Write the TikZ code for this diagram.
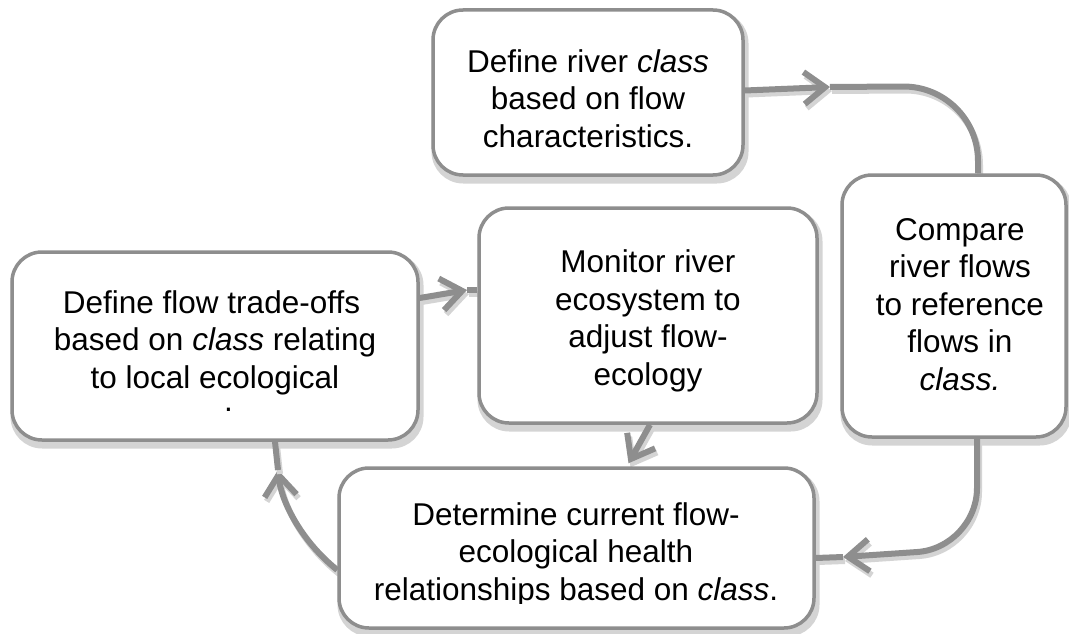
\documentclass[tikz,border=0pt]{standalone}
\usepackage{fontspec}
\setmainfont{Liberation Sans}
\usetikzlibrary{arrows.meta}

\definecolor{edge}{HTML}{8E8E8E}
\definecolor{shade}{HTML}{D4D4D4}

\pgfdeclarelayer{boxshadow}
\pgfdeclarelayer{links}
\pgfsetlayers{boxshadow,links,main}

\tikzset{
  stepbox/.style={draw=edge, line width=3.5pt, fill=white, rounded corners=30pt, inner sep=0pt},
  boxshade/.style={draw=shade, fill=shade, line width=3.5pt, rounded corners=30pt},
  steptext/.style={align=center, inner sep=0pt, anchor=base, font=\fontsize{31.5}{37.5}\selectfont},
  flow/.style={draw=edge, line width=6pt},
  flowshade/.style={draw=shade, line width=6pt, transform canvas={shift={(2pt,-4pt)}}},
  tip/.style={-{Straight Barb[length=21pt,width=32pt]}},
}

% connector drawn over its own light shadow
\newcommand\connector[2][]{%
  \draw[flowshade,#1] #2;
  \draw[flow,#1] #2;
}

\begin{document}
\begin{tikzpicture}[x=1pt, y=-1pt]
\useasboundingbox (0,0) rectangle (1069,634);

% the five steps
\node[stepbox, minimum width=310, minimum height=165] (b1) at (588,92.5) {};
\node[stepbox, minimum width=224, minimum height=262] (b2) at (954,306) {};
\node[stepbox, minimum width=338, minimum height=215] (b3) at (648,315.5) {};
\node[stepbox, minimum width=406, minimum height=188] (b4) at (215,346) {};
\node[stepbox, minimum width=475, minimum height=160] (b5) at (576.5,548) {};

% white page and the shadows of the steps
\begin{pgfonlayer}{boxshadow}
  \fill[white] (0,0) rectangle (1069,634);
  \foreach \b in {b1,b2,b3,b4,b5}
    \path[boxshade] ([shift={(2pt,-5pt)}]\b.north west) rectangle ([shift={(2pt,-5pt)}]\b.south east);
\end{pgfonlayer}

% bend points and arrow-tip positions
\coordinate (c1) at (978,86);
\coordinate (t1) at (830,87);
\coordinate (c2) at (977,548);
\coordinate (t2) at (843,557);
\coordinate (t4) at (467,290);
\coordinate (t5) at (278,470);

% connectors
\begin{pgfonlayer}{links}
  \connector[tip]{([yshift=2pt]b1.east) -- (t1)}
  \connector[rounded corners=75pt]{(t1) -- (c1) -- ([xshift=24pt]b2.north)}
  \connector[tip, rounded corners=60pt]{([xshift=23pt]b2.south) -- (c2) -- (t2)}
  \connector{(t2) -- ([yshift=-10pt]b5.east)}
  \connector[tip]{([xshift=2pt]b3.south) -- ([xshift=52pt,yshift=3pt]b5.north)}
  \connector[tip]{([yshift=48pt]b4.east) -- (t4)}
  \connector{(t4) -- ([yshift=25.5pt]b3.west)}
  \connector[tip]{([yshift=-22pt]b5.west) .. controls (300,540) and (281,500) .. (t5)}
  \connector{(t5) -- ([xshift=60pt]b4.south)}
\end{pgfonlayer}

% texts (placed by the baseline of their last line), cut off near the lower edge of each box
\begin{scope}
  \clip (b1.north west) rectangle ([yshift=27pt]b1.south east);
  \node[steptext] (l1) at (588,147) {Define river \textit{class}\\based on flow\\characteristics.};
\end{scope}
\node[steptext] (l2) at (960,390) {Compare\\river flows\\to reference\\flows in\\\textit{class.}};
\begin{scope}
  \clip (b3.north west) rectangle ([yshift=33pt]b3.south east);
  \node[steptext] (l3) at (648,385) {Monitor river\\ecosystem to\\adjust flow-\\ecology};
\end{scope}
\node[steptext] (l4) at (215,388) {Define flow trade-offs\hspace*{7pt}\\based on \textit{class} relating\\to local ecological};
\node[steptext] (l4b) at (228.5,411) {.};
\begin{scope}
  \clip (b5.north west) rectangle ([yshift=26pt]b5.south east);
  \node[steptext] (l5) at (576,600) {Determine current flow-\\ecological health\\relationships based on \textit{class}.};
\end{scope}
\end{tikzpicture}
\end{document}
